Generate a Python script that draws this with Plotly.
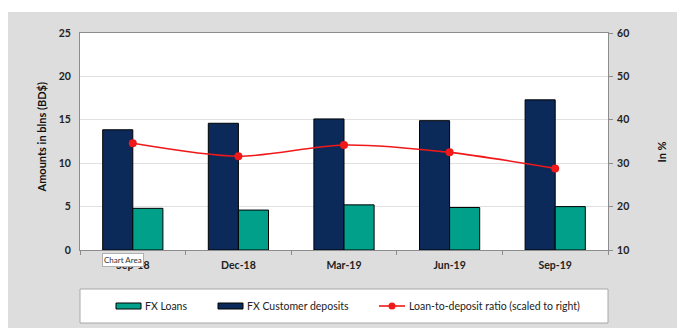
import plotly.graph_objects as go

# Quarterly foreign-currency figures
quarters = ["Sep-18", "Dec-18", "Mar-19", "Jun-19", "Sep-19"]
fx_deposits = [13.85, 14.6, 15.1, 14.9, 17.3]   # BD$ billions
fx_loans = [4.8, 4.6, 5.2, 4.9, 5.0]            # BD$ billions
ltd_ratio = [34.6, 31.6, 34.2, 32.5, 28.8]      # percent

left_ticks = [0, 5, 10, 15, 20, 25]
right_ticks = [10, 20, 30, 40, 50, 60]

NAVY = "#0b2a5a"
TEAL = "#00a08b"
RED = "#f01818"
FONT = "Lato"

W, H = 677, 330
ML, MR, MT, MB = 80, 69, 33, 80
PW, PH = W - ML - MR, H - MT - MB


def px_x(p):
    return (p - ML) / PW


def px_y(p):
    return (H - MB - p) / PH


fig = go.Figure()

fig.add_trace(go.Bar(
    x=quarters, y=fx_deposits, name="FX Customer deposits",
    marker=dict(color=NAVY, line=dict(color="#000000", width=1)),
    showlegend=False,
))
fig.add_trace(go.Bar(
    x=quarters, y=fx_loans, name="FX Loans",
    marker=dict(color=TEAL, line=dict(color="#000000", width=1)),
    showlegend=False,
))
fig.add_trace(go.Scatter(
    x=quarters, y=ltd_ratio, name="Loan-to-deposit ratio (scaled to right)",
    yaxis="y2", mode="lines+markers",
    line=dict(color=RED, width=1.6, shape="spline", smoothing=0.8),
    marker=dict(color=RED, size=8),
    showlegend=False,
))

shapes = []
annotations = []

# white strips around the grey chart area
shapes.append(dict(type="rect", xref="paper", yref="paper", layer="below",
                   x0=px_x(0), x1=px_x(W), y0=px_y(0), y1=px_y(12),
                   fillcolor="white", line=dict(width=0)))
shapes.append(dict(type="rect", xref="paper", yref="paper", layer="below",
                   x0=px_x(0), x1=px_x(8), y0=px_y(0), y1=px_y(H),
                   fillcolor="white", line=dict(width=0)))
shapes.append(dict(type="rect", xref="paper", yref="paper", layer="below",
                   x0=px_x(0), x1=px_x(W), y0=px_y(328), y1=px_y(H),
                   fillcolor="white", line=dict(width=0)))

# legend box
shapes.append(dict(type="rect", xref="paper", yref="paper",
                   x0=px_x(80), x1=px_x(608), y0=px_y(289), y1=px_y(323),
                   fillcolor="white", line=dict(color="#a8a8a8", width=1)))
ly = 306
shapes.append(dict(type="rect", xref="paper", yref="paper",
                   x0=px_x(116), x1=px_x(141), y0=px_y(303), y1=px_y(309),
                   fillcolor=TEAL, line=dict(color="#000000", width=1)))
shapes.append(dict(type="rect", xref="paper", yref="paper",
                   x0=px_x(218), x1=px_x(243), y0=px_y(303), y1=px_y(309),
                   fillcolor=NAVY, line=dict(color="#000000", width=1)))
shapes.append(dict(type="line", xref="paper", yref="paper",
                   x0=px_x(379), x1=px_x(405), y0=px_y(ly), y1=px_y(ly),
                   line=dict(color=RED, width=1.6)))
shapes.append(dict(type="circle", xref="paper", yref="paper",
                   x0=px_x(388.5), x1=px_x(395.5), y0=px_y(302.5), y1=px_y(309.5),
                   fillcolor=RED, line=dict(color=RED, width=0)))

legend_font = dict(family=FONT, size=10.5, color="#222222")
for xpos, label in [(143, "FX Loans"), (245, "FX Customer deposits"),
                    (407, "Loan-to-deposit ratio (scaled to right)")]:
    annotations.append(dict(xref="paper", yref="paper", x=px_x(xpos), y=px_y(ly),
                            text=label, showarrow=False, xanchor="left",
                            yanchor="middle", font=legend_font))

# axis titles
annotations.append(dict(xref="paper", yref="paper", x=px_x(32), y=px_y(138),
                        text="<b>Amounts in blns (BD$)</b>", textangle=-90,
                        showarrow=False, font=dict(family=FONT, size=11, color="#111111")))
annotations.append(dict(xref="paper", yref="paper", x=px_x(669), y=px_y(152),
                        text="<b>In %</b>", textangle=-90,
                        showarrow=False, font=dict(family=FONT, size=11, color="#111111")))

# hover tooltip over the first category label
annotations.append(dict(xref="paper", yref="paper", x=px_x(102), y=px_y(253),
                        text="Chart Area", showarrow=False, xanchor="left", yanchor="top",
                        bgcolor="white", bordercolor="#b0b0b0", borderwidth=1, borderpad=1,
                        font=dict(family=FONT, size=8, color="#333333")))

axis_font = dict(family=FONT, size=10.5, color="#222222", weight="bold")

fig.update_layout(
    width=W, height=H,
    margin=dict(l=ML, r=MR, t=MT, b=MB),
    paper_bgcolor="#dddddd",
    plot_bgcolor="white",
    barmode="group",
    bargap=0.43,
    bargroupgap=0,
    showlegend=False,
    font=dict(family=FONT),
    shapes=shapes,
    annotations=annotations,
    xaxis=dict(
        type="category",
        showline=True, linecolor="#8c8c8c", linewidth=1, mirror=True,
        ticks="outside", tickson="boundaries", ticklen=4, tickcolor="#8c8c8c",
        ticklabelstandoff=5,
        tickfont=axis_font,
        showgrid=False,
    ),
    yaxis=dict(
        range=[0, 25], tickvals=left_ticks,
        showline=True, linecolor="#8c8c8c", linewidth=1,
        showgrid=True, gridcolor="#e0e0e0", gridwidth=1,
        zeroline=False, ticks="", ticklabelstandoff=6,
        tickfont=axis_font,
    ),
    yaxis2=dict(
        range=[10, 60], tickvals=right_ticks, overlaying="y", side="right",
        showline=True, linecolor="#8c8c8c", linewidth=1,
        showgrid=False, zeroline=False,
        ticks="outside", ticklen=4, tickcolor="#8c8c8c",
        ticklabelstandoff=2,
        tickfont=axis_font,
    ),
)

fig.write_html("out.html")
